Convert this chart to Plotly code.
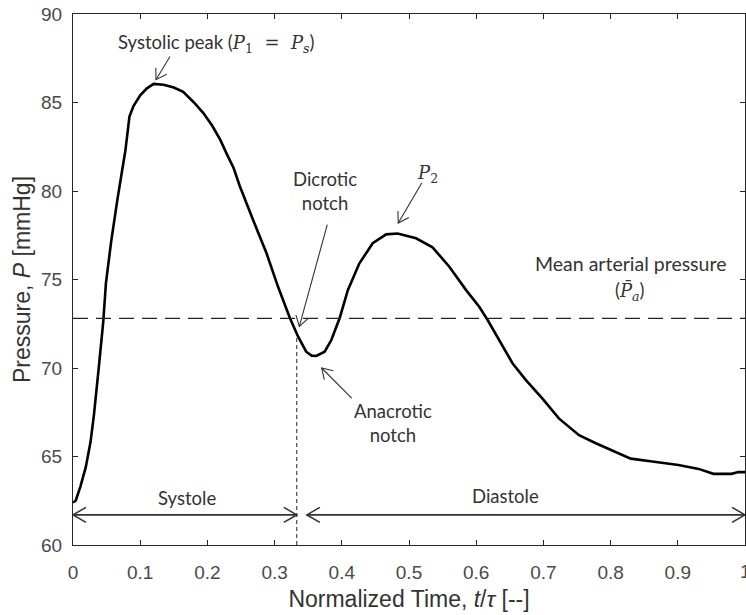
import math
import plotly.graph_objects as go

# ---------------- data ----------------
t_norm = [0.000, 0.004, 0.011, 0.019, 0.026, 0.031, 0.038, 0.045, 0.049, 0.057,
          0.066, 0.072, 0.078, 0.084, 0.090, 0.100, 0.110, 0.120, 0.135, 0.150, 0.164,
          0.180, 0.194, 0.207, 0.219, 0.230, 0.239, 0.248, 0.258, 0.268, 0.288,
          0.305, 0.3226, 0.335, 0.347, 0.355, 0.362, 0.3745, 0.3844, 0.397, 0.409,
          0.426, 0.446, 0.466, 0.483, 0.5105, 0.535, 0.560, 0.585, 0.6045, 0.617,
          0.634, 0.654, 0.674, 0.698, 0.723, 0.753, 0.778, 0.802, 0.830, 0.862,
          0.901, 0.931, 0.953, 0.980, 0.990, 1.000]
pressure = [62.4, 62.5, 63.3, 64.4, 65.8, 67.3, 69.9, 72.6, 74.8, 77.2,
            79.5, 80.9, 82.3, 84.2, 84.8, 85.4, 85.8, 86.05, 86.0, 85.85, 85.6,
            85.0, 84.4, 83.7, 82.9, 82.0, 81.3, 80.3, 79.3, 78.36, 76.48,
            74.6, 72.84, 71.77, 70.92, 70.7, 70.68, 70.92, 71.58, 72.84, 74.4,
            75.9, 77.05, 77.55, 77.6, 77.33, 76.82, 75.72, 74.4, 73.46, 72.71,
            71.58, 70.27, 69.32, 68.3, 67.15, 66.2, 65.75, 65.33, 64.88, 64.72,
            64.52, 64.3, 64.02, 64.02, 64.12, 64.12]

mean_arterial_pressure = 72.8
systole_end = 0.333
diastole_start = 0.348
phase_arrow_level = 61.7
dicrotic_top = 71.7

x_tick_vals = [0, 0.1, 0.2, 0.3, 0.4, 0.5, 0.6, 0.7, 0.8, 0.9, 1]
x_tick_text = ["0", "0.1", "0.2", "0.3", "0.4", "0.5", "0.6", "0.7", "0.8", "0.9", "1"]
y_tick_vals = [60, 65, 70, 75, 80, 85, 90]
y_tick_text = ["60", "65", "70", "75", "80", "85", "90"]

# annotation pointer arrows: (x_start, y_start, x_tip, y_tip)
pointer_arrows = [
    (0.1443, 87.6, 0.1235, 86.29),   # systolic peak
    (0.3784, 78.1, 0.3368, 72.35),   # dicrotic notch
    (0.519, 80.45, 0.484, 78.19),    # P2
    (0.4147, 68.3, 0.370, 70.0),     # anacrotic notch
]

# ---------------- layout constants ----------------
W, H = 746, 615
ML, MR, MT, MB = 73, 1, 14, 70
PW, PH = W - ML - MR, H - MT - MB
XR, YR = (0, 1), (60, 90)
SX = PW / (XR[1] - XR[0])     # px per x unit
SY = PH / (YR[1] - YR[0])     # px per y unit

ANN_FONT = "Lato"
AX_FONT = "Liberation Sans"
MATH_FONT = "DejaVu Serif"
TICK_FONT = dict(family=AX_FONT, size=19, color="#4a4a4a")

fig = go.Figure()

# main waveform
fig.add_trace(go.Scatter(x=t_norm, y=pressure, mode="lines",
                         line=dict(color="black", width=2.6),
                         hoverinfo="skip", showlegend=False))

# mean arterial pressure dashed line
fig.add_trace(go.Scatter(x=[XR[0], XR[1]], y=[mean_arterial_pressure] * 2, mode="lines",
                         line=dict(color="#222222", width=1.2, dash="15px,8px"),
                         hoverinfo="skip", showlegend=False))

# dotted vertical at end of systole
fig.add_trace(go.Scatter(x=[systole_end, systole_end], y=[YR[0], dicrotic_top], mode="lines",
                         line=dict(color="#222222", width=1, dash="4px,3px"),
                         hoverinfo="skip", showlegend=False))


def chevron(xs, ys, xt, yt, L, half_deg):
    dxp = (xt - xs) * SX
    dyp = (yt - ys) * SY
    a = math.atan2(dyp, dxp)
    pts_x, pts_y = [], []
    for sgn in (1, -1):
        b = a + sgn * math.radians(half_deg)
        pts_x.append(xt - L * math.cos(b) / SX)
        pts_y.append(yt - L * math.sin(b) / SY)
    return [pts_x[0], xt, pts_x[1]], [pts_y[0], yt, pts_y[1]]


def add_arrow(xs, ys, xt, yt, width, color, L, half, both=False):
    xx = [xs, xt, None]
    yy = [ys, yt, None]
    cx, cy = chevron(xs, ys, xt, yt, L, half)
    xx += cx + [None]
    yy += cy + [None]
    if both:
        cx, cy = chevron(xt, yt, xs, ys, L, half)
        xx += cx + [None]
        yy += cy + [None]
    fig.add_trace(go.Scatter(x=xx, y=yy, mode="lines",
                             line=dict(color=color, width=width),
                             hoverinfo="skip", showlegend=False))


for (xs, ys, xt, yt) in pointer_arrows:
    add_arrow(xs, ys, xt, yt, 1.1, "#333333", 12, 32)

# systole / diastole arrows
add_arrow(XR[0], phase_arrow_level, systole_end, phase_arrow_level, 1.6, "#333333", 15, 30, both=True)
add_arrow(diastole_start, phase_arrow_level, XR[1], phase_arrow_level, 1.6, "#333333", 15, 30, both=True)


def m(s):
    return "<span style='font-family:" + MATH_FONT + ";font-size:18px'>" + s + "</span>"


annots = [
    dict(x=0.214, y=88.36, size=18.5,
         text="Systolic peak (" + m("<i>P</i><sub>1</sub>  =  <i>P</i><sub><i>s</i></sub>") + ")"),
    dict(x=0.375, y=80.0, size=18.5, text="Dicrotic<br>notch"),
    dict(x=0.527, y=80.95, size=18.5, text=m("<i>P</i><sub>2</sub>")),
    dict(x=0.829, y=75.93, size=19.5, text="Mean arterial pressure"),
    dict(x=0.829, y=74.33, size=18.5, text="(" + m("<i>P\u0304</i><sub><i>a</i></sub>") + ")"),
    dict(x=0.476, y=66.87, size=18.5, text="Anacrotic<br>notch"),
    dict(x=0.169, y=62.66, size=18.5, text="Systole"),
    dict(x=0.644, y=62.79, size=18.5, text="Diastole"),
]
for a in annots:
    fig.add_annotation(x=a["x"], y=a["y"], text=a["text"], showarrow=False,
                       xanchor="center", yanchor="middle",
                       font=dict(family=ANN_FONT, size=a["size"], color="#333333"))

# last x tick label (partially cut by the page edge, as in the original)
fig.add_annotation(x=x_tick_vals[-1], y=0, yref="paper", text=x_tick_text[-1],
                   showarrow=False, xanchor="center", yanchor="middle", yshift=-26,
                   font=TICK_FONT)

axis_common = dict(showline=True, linecolor="#262626", linewidth=1, mirror="ticks",
                   ticks="inside", ticklen=5, tickcolor="#262626", showgrid=False,
                   zeroline=False, tickfont=TICK_FONT)

fig.update_xaxes(range=list(XR), tickvals=x_tick_vals, ticktext=x_tick_text,
                 ticklabelstandoff=10,
                 title=dict(text="Normalized Time, <i>t</i>/<i>\u03c4</i> [--]", standoff=9,
                            font=dict(family=AX_FONT, size=23, color="#333333")),
                 **axis_common)
fig.update_yaxes(range=list(YR), tickvals=y_tick_vals, ticktext=y_tick_text,
                 ticklabelstandoff=6,
                 title=dict(text="Pressure, <i>P</i> [mmHg]", standoff=4,
                            font=dict(family=AX_FONT, size=23, color="#333333")),
                 **axis_common)

fig.update_layout(width=W, height=H, margin=dict(l=ML, r=MR, t=MT, b=MB, autoexpand=False),
                  plot_bgcolor="white", paper_bgcolor="white", showlegend=False)

fig.write_html("out.html")
